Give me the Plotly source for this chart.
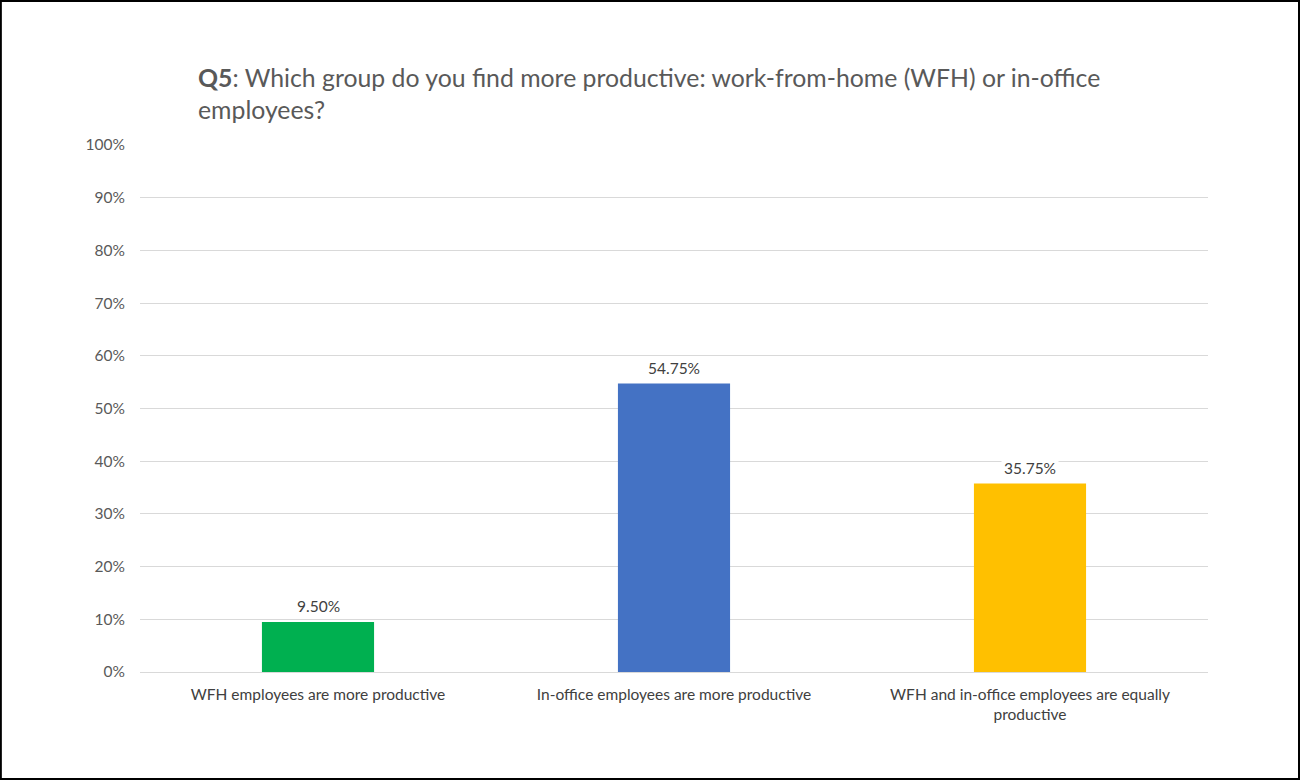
import plotly.graph_objects as go

categories = [
    "WFH employees are more productive",
    "In-office employees are more productive",
    "WFH and in-office employees are equally<br>productive",
]
values = [0.095, 0.5475, 0.3575]
labels = ["9.50%", "54.75%", "35.75%"]
colors = ["#00B050", "#4472C4", "#FFC000"]

FONT = "Lato, 'Open Sans', sans-serif"

fig = go.Figure()
fig.add_trace(go.Bar(
    x=categories, y=values, marker=dict(color=colors, line=dict(width=0)),
    hoverinfo="skip",
))

for c, v, t in zip(categories, values, labels):
    fig.add_annotation(
        x=c, y=v, text=t, showarrow=False, yanchor="bottom", yshift=4,
        bgcolor="white", font=dict(family=FONT, size=15.5, color="#404040"),
        borderpad=2,
    )

fig.add_annotation(
    xref="paper", yref="paper", x=(196 - 140) / 1068, y=1 + (145 - 61) / 527,
    xanchor="left", yanchor="top", align="left", showarrow=False,
    text="<b>Q5</b>: Which group do you find more productive: work-from-home (WFH) or in-office<br>employees?",
    font=dict(family=FONT, size=24.8, color="#595959"),
)

fig.add_shape(type="rect", xref="paper", yref="paper",
              x0=-140 / 1068 + 0.0008, x1=1 + 91 / 1068, y0=-107 / 527, y1=1 + 144 / 527,
              line=dict(color="black", width=2), fillcolor="rgba(0,0,0,0)", layer="above")

fig.update_layout(
    width=1300, height=780,
    margin=dict(l=140, r=92, t=145, b=108),
    paper_bgcolor="white", plot_bgcolor="white",
    bargap=0.685, showlegend=False,
    font=dict(family=FONT, size=15.5, color="#595959"),
    xaxis=dict(showgrid=False, showline=True, linecolor="#d9d9d9", linewidth=1,
               ticks="", tickfont=dict(size=15.5, color="#404040"), ticklabelstandoff=8),
    yaxis=dict(range=[0, 1.0001], dtick=0.1, tickformat=".0%", showgrid=True,
               gridcolor="#d9d9d9", gridwidth=1, zeroline=False, showline=False,
               ticks="", tickfont=dict(size=15.5, color="#595959"), ticklabelstandoff=14),
)

fig.write_html("out.html")
